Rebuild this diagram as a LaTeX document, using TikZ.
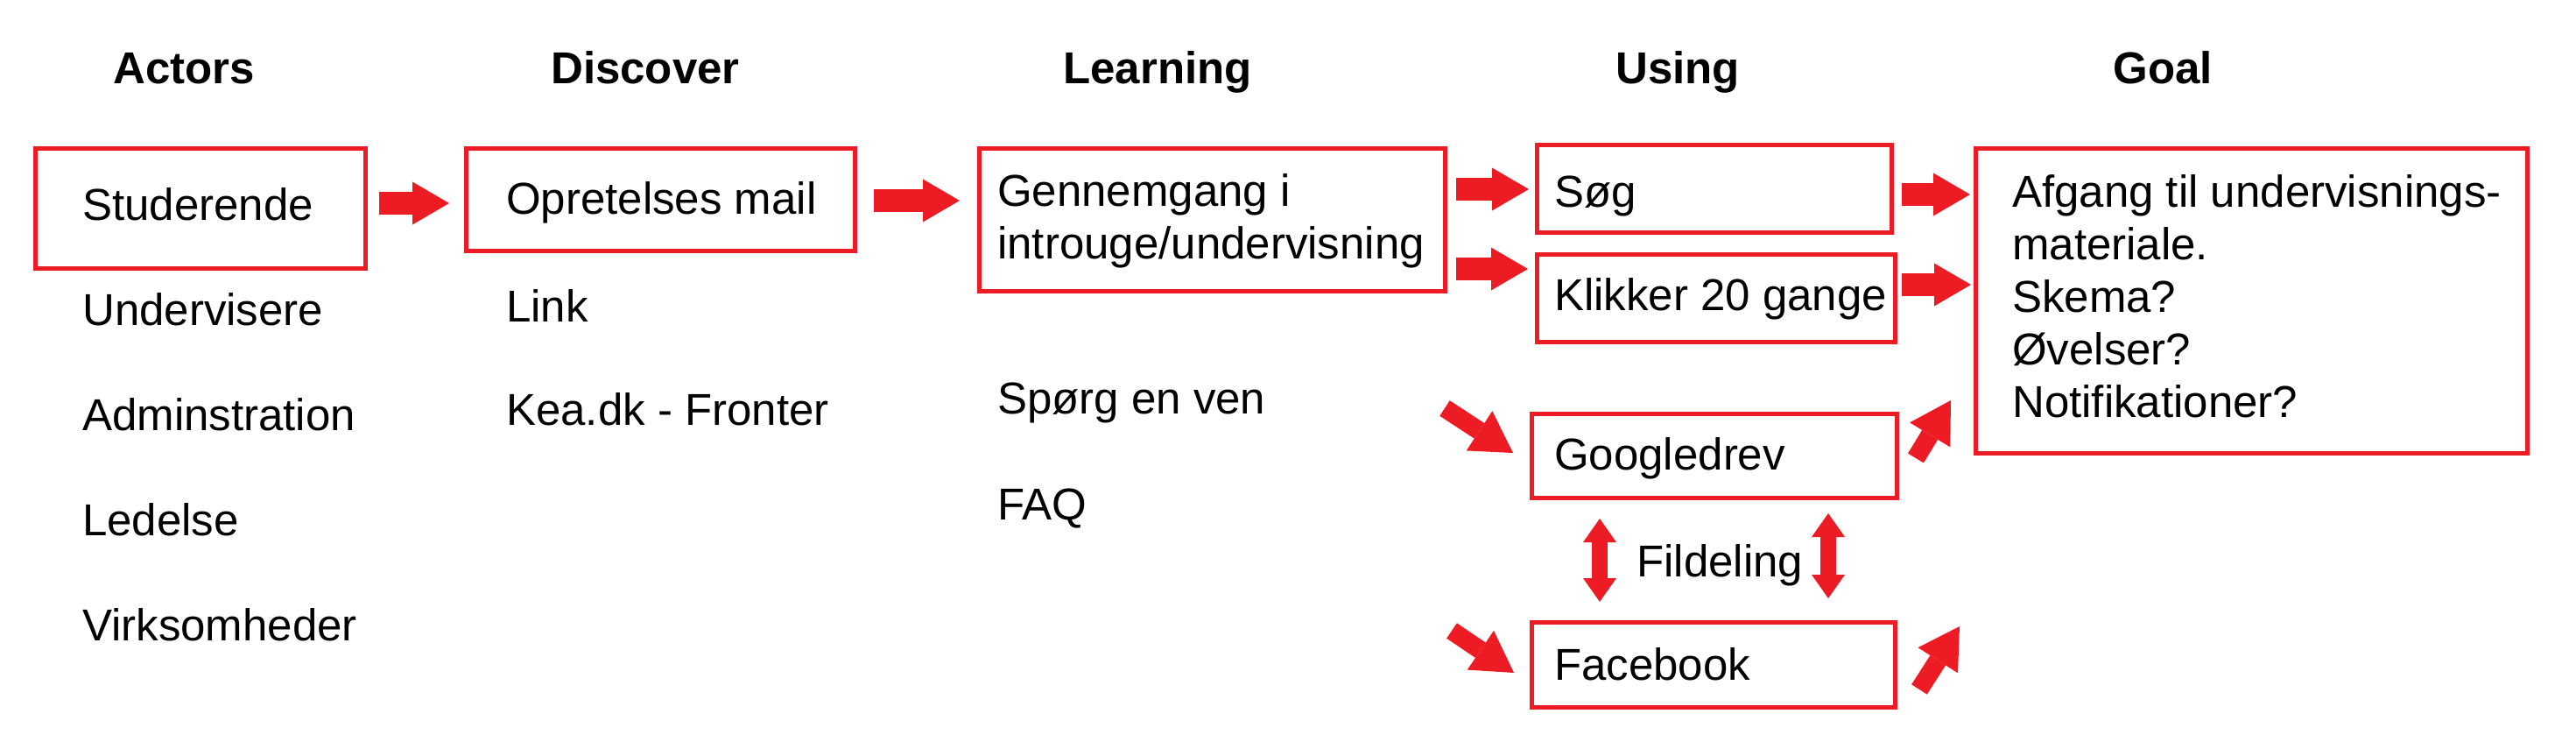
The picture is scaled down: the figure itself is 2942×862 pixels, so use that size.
\documentclass[tikz,border=0pt]{standalone}
\usepackage{fontspec}
\setmainfont{Liberation Sans}
\usetikzlibrary{arrows.meta}
\definecolor{kred}{RGB}{237,28,36}

\begin{document}
\begin{tikzpicture}[
    x=1pt, y=-1pt,
    font=\fontsize{51}{60}\selectfont,
    box/.style={draw=kred, line width=5pt, inner sep=0pt},
    txt/.style={anchor=base west, inner sep=0pt, align=left},
    head/.style={anchor=base, inner sep=0pt, font=\fontsize{51}{60}\selectfont\bfseries},
    barrow/.style={draw=kred, line width=26pt, -{Triangle[width=49pt,length=42pt,line width=0pt]}},
    sarrow/.style={draw=kred, line width=21pt, -{Triangle[width=54pt,length=46pt,line width=0pt]}},
    darrow/.style={draw=kred, line width=18pt, {Triangle[width=38pt,length=27pt,line width=0pt]}-{Triangle[width=38pt,length=27pt,line width=0pt]}}
]
    \useasboundingbox (0,0) rectangle (2942,862);

    % column heads
    \node[head] (hAct) at (210,95) {Actors};
    \node[head] (hDis) at (737,95) {Discover};
    \node[head] (hLea) at (1322,95) {Learning};
    \node[head] (hUse) at (1916,95) {Using};
    \node[head] (hGoal) at (2470,95) {Goal};

    % boxes
    \node[box, minimum width=377pt, minimum height=137pt] (stud) at (229,238) {};
    \node[box, minimum width=444pt, minimum height=117pt] (opr) at (754.5,228) {};
    \node[box, minimum width=532pt, minimum height=163pt] (gen) at (1384.5,251) {};
    \node[box, minimum width=405pt, minimum height=100pt] (sog) at (1958,215.5) {};
    \node[box, minimum width=409pt, minimum height=100pt] (klik) at (1960,340.5) {};
    \node[box, minimum width=630pt, minimum height=348pt] (goal) at (2571.5,343.5) {};
    \node[box, minimum width=417pt, minimum height=96pt] (goog) at (1958,520.5) {};
    \node[box, minimum width=415pt, minimum height=97pt] (fb) at (1957,759) {};

    % actors
    \node[txt] (tStud) at (94,251) {Studerende};
    \node[txt] (tUnd) at (94,371) {Undervisere};
    \node[txt] (tAdm) at (94,491) {Adminstration};
    \node[txt] (tLed) at (94,611) {Ledelse};
    \node[txt] (tVirk) at (94,731) {Virksomheder};

    % discover
    \node[txt] (tOpr) at (578,244) {Opretelses mail};
    \node[txt] (tLink) at (578,367) {Link};
    \node[txt] (tKea) at (578,485) {Kea.dk - Fronter};

    % learning (base = last line)
    \node[txt] (tGen) at (1139,295) {Gennemgang i\\introuge/undervisning};
    \node[txt] (tSpo) at (1139,472) {Spørg en ven};
    \node[txt] (tFaq) at (1139,593) {FAQ};

    % using
    \node[txt] (tSog) at (1775,236) {Søg};
    \node[txt] (tKlik) at (1775,354) {Klikker 20 gange};
    \node[txt] (tGoog) at (1775,536) {Googledrev};
    \node[txt] (tFb) at (1775,776) {Facebook};
    \node[txt] (tFil) at (1869,658) {Fildeling};

    % goal
    \node[txt] (tGoal) at (2298,476) {Afgang til undervisnings-\\materiale.\\Skema?\\Øvelser?\\Notifikationer?};

    \coordinate (gIn) at (1650,466);
    \coordinate (fIn) at (1658,720);
    \coordinate (fOut) at (2238,715);

    \draw[barrow, shorten <=13pt, shorten >=17pt] (stud.east |- 0,232) -- (opr.west |- 0,232);
    \draw[barrow, shorten <=19pt, shorten >=20pt] (opr.east |- 0,229) -- (gen.west |- 0,229);
    \draw[barrow, shorten <=10pt, shorten >=7pt] (gen.east |- 0,216) -- (sog.west |- 0,216);
    \draw[barrow, shorten <=10pt, shorten >=8pt] (gen.east |- 0,307) -- (klik.west |- 0,307);
    \draw[barrow, shorten <=9pt, shorten >=4pt] (sog.east |- 0,222) -- (goal.west |- 0,222);
    \draw[barrow, shorten <=5pt, shorten >=3pt] (klik.east |- 0,325) -- (goal.west |- 0,325);

    \draw[sarrow] (gIn) -- ([xshift=-19pt,yshift=3.5pt]goog.west);
    \draw[sarrow] (fIn) -- ([xshift=-18pt,yshift=-9pt]fb.west);
    \draw[sarrow] ([xshift=19pt,yshift=-2.5pt]goog.east) -- ([xshift=-26pt,yshift=63pt]goal.south west);
    \draw[sarrow] ([xshift=25pt,yshift=-28pt]fb.east) -- (fOut);

    \draw[darrow, shorten <=21pt, shorten >=21pt] ([xshift=-131pt]goog.south) -- ([xshift=-130pt]fb.north);
    \draw[darrow, shorten <=15pt, shorten >=25pt] ([xshift=130pt]goog.south) -- ([xshift=131pt]fb.north);

\end{tikzpicture}
\end{document}
